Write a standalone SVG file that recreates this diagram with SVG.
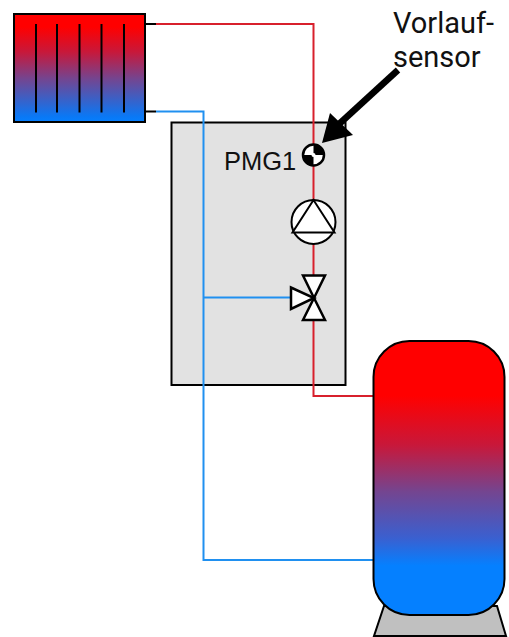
<svg xmlns="http://www.w3.org/2000/svg" width="509" height="637" viewBox="0 0 509 637">
<style>
.k{stroke:#000;fill:none}
.v{fill:#fff;stroke:#000;stroke-width:2.5;stroke-linejoin:miter}
.r{fill:none;stroke:#d8202c;stroke-width:2}
.b{fill:none;stroke:#2090f0;stroke-width:2}
text{fill:#111}
</style>
<defs>
<linearGradient id="g1" x1="0" y1="0" x2="0" y2="1"><stop offset="0.12" stop-color="#f00"/><stop offset="0.35" stop-color="#c8183a"/><stop offset="0.6" stop-color="#744590"/><stop offset="0.95" stop-color="#0a78f5"/><stop offset="1" stop-color="#0580ff"/></linearGradient>
<linearGradient id="g2" x1="0" y1="0" x2="0" y2="1"><stop offset="0.2" stop-color="#f00"/><stop offset="0.38" stop-color="#c8183a"/><stop offset="0.55" stop-color="#744590"/><stop offset="0.72" stop-color="#3a60d0"/><stop offset="0.82" stop-color="#0580ff"/></linearGradient>
</defs>
<rect width="509" height="637" fill="#fff"/>
<g id="station"><rect x="171.500" y="122.500" width="174" height="262.500" fill="#e2e2e2" stroke="#000" stroke-width="2"/></g>
<g id="connectors">
<path class="r" d="M156 24H313.500V275M313.500 320V396H374"/>
<path class="b" d="M156 111.500H203.500V560H374"/>
<path class="b" d="M203.500 297.500H291"/>
<path class="k" stroke-width="2" d="M145 24H156M145 111.500H156"/>
</g>
<g id="radiator">
<rect x="14" y="14" width="131" height="108" fill="url(#g1)" stroke="#000" stroke-width="2"/>
<path class="k" stroke-width="2" d="M36 24V112.500M57 24V112.500M79.500 24V112.500M101.500 24V112.500M124 24V112.500"/>
</g>
<g id="tank">
<path d="M384 606L374 636H506L497 606Z" fill="#c0c0c0" stroke="#000" stroke-width="2"/>
<rect x="373.500" y="341" width="131" height="274" rx="36" ry="36" fill="url(#g2)" stroke="#000" stroke-width="2"/>
</g>
<g id="sensor">
<circle cx="313.500" cy="155" r="10.500" fill="#fff" stroke="#000" stroke-width="2.500"/>
<path d="M313.500 155V144A11 11 0 0 1 324.500 155ZM313.500 155V166A11 11 0 0 1 302.500 155Z" fill="#000"/>
<circle cx="313.500" cy="155" r="2" fill="#fff"/>
<text x="224" y="170" font-family="Liberation Sans, Arial, sans-serif" font-size="25.500">PMG1</text>
</g>
<g id="pump">
<circle cx="313.500" cy="222" r="22" fill="#fff" stroke="#000" stroke-width="2"/>
<path d="M313.500 200L292.500 232.500H334.500Z" fill="#fff" stroke="#000" stroke-width="2"/>
</g>
<g id="valve">
<path class="v" d="M303 275.500H325L314 298Z"/>
<path class="v" d="M303 320H325L314 298Z"/>
<path class="v" d="M291 287.500V309L314 298Z"/>
</g>
<g id="label">
<text x="393" y="32.500" font-family="Roboto, sans-serif" font-size="29">Vorlauf-</text>
<text x="393" y="67" font-family="Roboto, sans-serif" font-size="29">sensor</text>
<path d="M398 70L338 125" stroke="#000" stroke-width="6.500" fill="none"/>
<path d="M322 143L330 113L353 135Z" fill="#000"/>
</g>
</svg>
